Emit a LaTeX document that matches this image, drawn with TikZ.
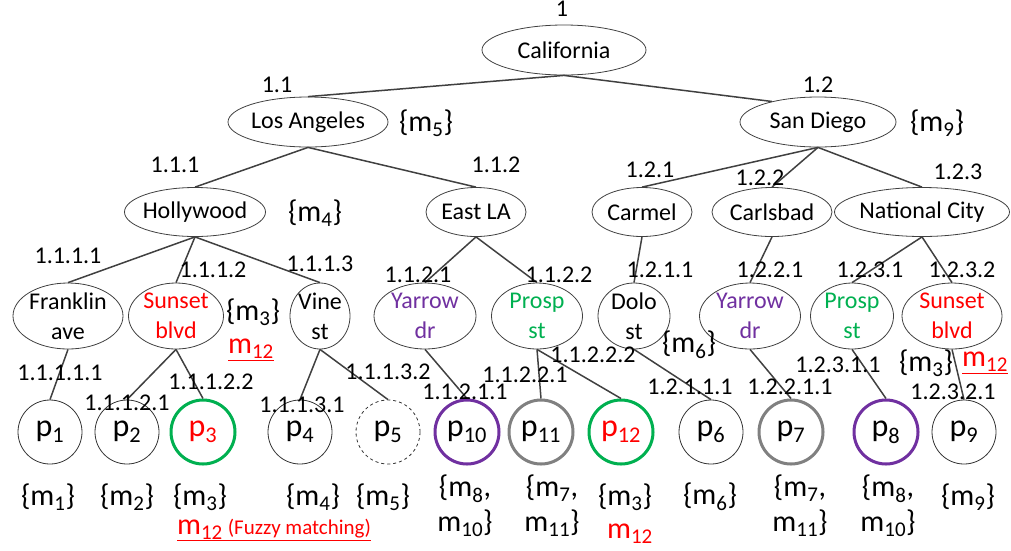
\documentclass[tikz,border=0pt]{standalone}
\usepackage{fontspec}
\setmainfont{Carlito}
\usetikzlibrary{shapes.geometric}
\definecolor{edgegray}{RGB}{64,64,64}
\definecolor{pgreen}{RGB}{0,176,80}
\definecolor{ppurple}{RGB}{112,48,160}
\definecolor{pgray}{RGB}{128,128,128}
\newcommand{\ms}[1]{m\textsubscript{#1}}
\begin{document}
\begin{tikzpicture}[x=1pt,y=-1pt,
  every node/.style={font=\fontsize{24}{30}\selectfont},
  ell/.style={ellipse, draw=edgegray, line width=0.8pt, inner sep=-4pt, align=center},
  leaf/.style={circle, draw=black!80, line width=0.8pt, inner sep=0pt, minimum size=64, font=\fontsize{32}{36}\selectfont},
  thickleaf/.style={leaf, line width=3pt, draw=#1},
  mset/.style={font=\fontsize{30}{35}\selectfont, align=center},
  br/.style={draw=edgegray, line width=1.5pt}]
\useasboundingbox (0,0) rectangle (1011,550);
\node[ell, minimum width=164, minimum height=50](CA) at (564,50){California};
\node[ell, minimum width=160, minimum height=50](LA) at (308,122){Los Angeles};
\node[ell, minimum width=156, minimum height=50](SD) at (818,122){San Diego};
\node[ell, minimum width=141, minimum height=49](HW) at (195,212){Hollywood};
\node[ell, minimum width=100, minimum height=49](ELA) at (476,212){East LA};
\node[ell, minimum width=100, minimum height=49](CM) at (642,212){Carmel};
\node[ell, minimum width=120, minimum height=49](CB) at (772,212){Carlsbad};
\node[ell, minimum width=175, minimum height=49](NC) at (922,212){National City};
\node[ell, minimum width=110, minimum height=66](FR) at (68,316){Franklin\\ave};
\node[ell, minimum width=95, minimum height=66, text=red](SB) at (176,316){Sunset\\blvd};
\node[ell, minimum width=60, minimum height=66](VS) at (320,316){Vine\\st};
\node[ell, minimum width=102, minimum height=66, text=ppurple](YD) at (425,316){Yarrow\\dr};
\node[ell, minimum width=91, minimum height=66, text=pgreen](PS) at (537,316){Prosp\\st};
\node[ell, minimum width=72, minimum height=66](DS) at (634,316){Dolo\\st};
\node[ell, minimum width=101, minimum height=66, text=ppurple](YD2) at (750,316){Yarrow\\dr};
\node[ell, minimum width=83, minimum height=66, text=pgreen](PS2) at (852,316){Prosp\\st};
\node[ell, minimum width=100, minimum height=66, text=red](SB2) at (952,316){Sunset\\blvd};
\node[leaf](p1) at (50,432){p\textsubscript{1}};
\node[leaf](p2) at (127,432){p\textsubscript{2}};
\node[thickleaf=pgreen, text=red](p3) at (203,432){p\textsubscript{3}};
\node[leaf](p4) at (300,432){p\textsubscript{4}};
\node[leaf, dashed](p5) at (388,432){p\textsubscript{5}};
\node[thickleaf=ppurple](p10) at (467,432){p\textsubscript{10}};
\node[thickleaf=pgray](p11) at (541,432){p\textsubscript{11}};
\node[thickleaf=pgreen, text=red](p12) at (621,432){p\textsubscript{12}};
\node[leaf](p6) at (711,432){p\textsubscript{6}};
\node[thickleaf=pgray](p7) at (791,432){p\textsubscript{7}};
\node[thickleaf=ppurple](p8) at (886,432){p\textsubscript{8}};
\node[leaf](p9) at (964,432){p\textsubscript{9}};
\draw[br] (CA.south) -- (LA.north);
\draw[br] (CA.south) -- (SD.156);
\draw[br] (LA.south) -- (HW.north);
\draw[br] (LA.south) -- (ELA.north);
\draw[br] (SD.south) -- (CM.north);
\draw[br] (SD.south) -- (CB.north);
\draw[br] (SD.south) -- (NC.north);
\draw[br] (HW.south) -- (FR.north);
\draw[br] (HW.south) -- (SB.north);
\draw[br] (HW.south) -- (VS.north);
\draw[br] (ELA.south) -- (YD.north);
\draw[br] (ELA.south) -- (PS.north);
\draw[br] (CM.south) -- (DS.north);
\draw[br] (CB.south) -- (YD2.north);
\draw[br] (NC.south) -- (PS2.north);
\draw[br] (NC.south) -- (SB2.north);
\draw[br] (FR.south) -- (p1.north);
\draw[br] (SB.south) -- (p2.north);
\draw[br] (SB.south) -- (p3.north);
\draw[br] (VS.south) -- (p4.north);
\draw[br] (VS.south) -- (p5.north);
\draw[br] (YD.south) -- (p10.north);
\draw[br] (PS.south) -- (p11.north);
\draw[br] (PS.south) -- (p12.north);
\draw[br] (DS.south) -- (p6.north);
\draw[br] (YD2.south) -- (p7.north);
\draw[br] (PS2.south) -- (p8.north);
\draw[br] (SB2.south) -- (p9.north);
\node(i1) at (562,9){1};
\node(i11) at (277,85){1.1};
\node(i12) at (818,85){1.2};
\node(i111) at (175,165){1.1.1};
\node(i112) at (496,165){1.1.2};
\node(i121) at (650,170){1.2.1};
\node(i122) at (760,178){1.2.2};
\node(i123) at (958,172){1.2.3};
\node(i1111) at (68,256){1.1.1.1};
\node(i1112) at (213,270){1.1.1.2};
\node(i1113) at (320,264){1.1.1.3};
\node(i1121) at (418,275){1.1.2.1};
\node(i1122) at (559,275){1.1.2.2};
\node(i1211) at (660,270){1.2.1.1};
\node(i1221) at (770,270){1.2.2.1};
\node(i1231) at (870,270){1.2.3.1};
\node(i1232) at (962,270){1.2.3.2};
\node(i11111) at (60,373){1.1.1.1.1};
\node(i11121) at (127,403){1.1.1.2.1};
\node(i11122) at (211,382){1.1.1.2.2};
\node(i11131) at (302,405){1.1.1.3.1};
\node(i11132) at (388,372){1.1.1.3.2};
\node(i11211) at (465,392){1.1.2.1.1};
\node(i11221) at (525,375){1.1.2.2.1};
\node(i11222) at (593,355){1.1.2.2.2};
\node(i12111) at (690,387){1.2.1.1.1};
\node(i12211) at (790,387){1.2.2.1.1};
\node(i12311) at (838,365){1.2.3.1.1};
\node(i12321) at (953,392){1.2.3.2.1};
\node[mset](mLA) at (426,123){\{\ms{5}\}};
\node[mset](mSD) at (937,123){\{\ms{9}\}};
\node[mset](mHW) at (315,213){\{\ms{4}\}};
\node[mset](mSB) at (253,312){\{\ms{3}\}};
\node[mset, text=red](fSB) at (251,350){\underline{\ms{12}}};
\node[mset](mDS) at (689,345){\{\ms{6}\}};
\node[mset](mSB2) at (926,363){\{\ms{3}\}};
\node[mset, text=red](fSB2) at (985,363){\underline{\ms{12}}};
\node[mset](m1) at (48,497){\{\ms{1}\}};
\node[mset](m2) at (127,497){\{\ms{2}\}};
\node[mset](m3) at (200,497){\{\ms{3}\}};
\node[mset](m4) at (313,497){\{\ms{4}\}};
\node[mset](m5) at (383,497){\{\ms{5}\}};
\node[mset](m10) at (465,506){\{\ms{8},\\\ms{10}\}};
\node[mset](m11) at (552,506){\{\ms{7},\\\ms{11}\}};
\node[mset](m12) at (625,497){\{\ms{3}\}};
\node[mset, text=red](f12) at (630,534){\ms{12}};
\node[mset](m6) at (710,497){\{\ms{6}\}};
\node[mset](m7) at (800,506){\{\ms{7},\\\ms{11}\}};
\node[mset](m8) at (888,506){\{\ms{8},\\\ms{10}\}};
\node[mset](m9) at (968,497){\{\ms{9}\}};
\node[mset, text=red](fuzzy) at (274,530){\underline{\ms{12}\,{\fontsize{21}{24}\selectfont(Fuzzy matching)}}};
\end{tikzpicture}
\end{document}
